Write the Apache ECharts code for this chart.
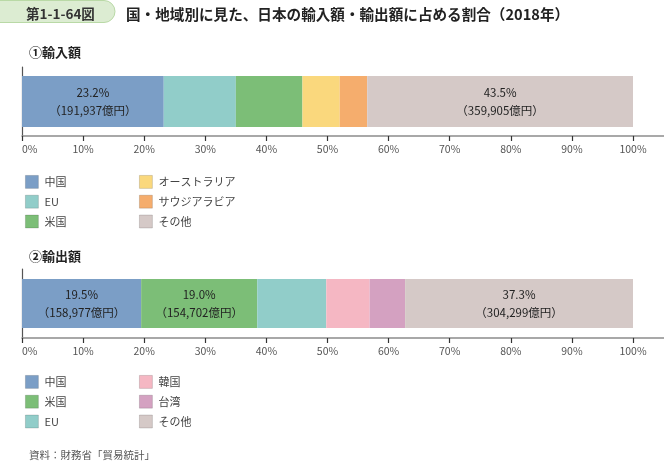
<!DOCTYPE html>
<html>
<head>
<meta charset="utf-8">
<script src="https://cdn.jsdelivr.net/npm/echarts@6/dist/echarts.min.js"></script>
<style>
  html, body { margin: 0; padding: 0; background: #fff; }
  #main { width: 664px; height: 461px; }
</style>
</head>
<body>
<div id="main"></div>
<script>
// 輸入額（2018年）シェア %
var importNames = ['中国', 'EU', '米国', 'オーストラリア', 'サウジアラビア', 'その他']
var importShares = [23.2, 11.8, 10.9, 6.1, 4.5, 43.5]
var importAmounts = [191937, null, null, null, null, 359905]   // 億円

// 輸出額（2018年）シェア %
var exportNames = ['中国', '米国', 'EU', '韓国', '台湾', 'その他']
var exportShares = [19.5, 19.0, 11.3, 7.1, 5.8, 37.3]
var exportAmounts = [158977, 154702, null, null, null, 304299]  // 億円

var xTicks = [0, 100, 10]   // min, max, interval

var colors = {
    '中国': '#7b9ec6',
    'EU': '#91cdc9',
    '米国': '#7cbe77',
    'オーストラリア': '#fad87d',
    'サウジアラビア': '#f5ad6d',
    '韓国': '#f5b7c3',
    '台湾': '#d4a1c1',
    'その他': '#d5c9c7'
}

var FONT = '"Noto Sans CJK JP", "Noto Sans", sans-serif'

function fmtAmount(v) {
    return v.toString().replace(/\B(?=(\d{3})+(?!\d))/g, ',')
}

function makeSeries(names, shares, amounts, idx, barWidth) {
    return names.map(function (n, i) {
        var amt = amounts[i]
        return {
            name: n,
            type: 'bar',
            stack: 'total' + idx,
            xAxisIndex: idx,
            yAxisIndex: idx,
            barWidth: barWidth,
            itemStyle: { color: colors[n] },
            label: {
                show: amt != null,
                position: 'inside',
                fontFamily: FONT,
                fontSize: 11.5,
                color: '#222',
                lineHeight: 18,
                formatter: function () {
                    return shares[i].toFixed(1) + '%\n（' + fmtAmount(amt) + '億円）'
                }
            },
            emphasis: { disabled: true },
            data: [shares[i]]
        }
    })
}

function makeX(idx) {
    return {
        gridIndex: idx,
        type: 'value',
        min: xTicks[0],
        max: xTicks[1],
        interval: xTicks[2],
        splitLine: { show: false },
        axisLine: { show: true, lineStyle: { color: '#8c8c8c', width: 1.5 } },
        axisTick: { show: true, length: 5, lineStyle: { color: '#333', width: 1.2 } },
        axisLabel: {
            formatter: '{value}%',
            color: '#555',
            fontSize: 10.5,
            fontFamily: FONT,
            margin: 8,
            alignMinLabel: 'left'
        }
    }
}

function makeY(idx) {
    return {
        gridIndex: idx,
        type: 'category',
        data: [''],
        axisLine: { show: true, lineStyle: { color: '#555', width: 1.2 } },
        axisTick: { show: false },
        axisLabel: { show: false }
    }
}

function makeLegend(names, left, top) {
    return {
        orient: 'vertical',
        left: left,
        top: top,
        padding: 0,
        itemWidth: 13,
        itemHeight: 13,
        itemGap: 6,
        icon: 'rect',
        selectedMode: false,
        textStyle: { fontFamily: FONT, fontSize: 11, color: '#444', lineHeight: 13, padding: [0, 0, 0, 1] },
        itemStyle: { borderWidth: 0.8, borderColor: 'rgba(0,0,0,0.18)' },
        data: names
    }
}

var option = {
    backgroundColor: '#fff',
    animation: false,
    textStyle: { fontFamily: FONT },
    title: [
        { text: '第1-1-64図', left: 21, top: 2, textStyle: { fontFamily: FONT, fontSize: 13.5, fontWeight: 'bold', color: '#333' } },
        { text: '国・地域別に見た、日本の輸入額・輸出額に占める割合（2018年）', left: 121, top: 2, textStyle: { fontFamily: FONT, fontSize: 14.6, fontWeight: 'bold', color: '#222' } },
        { text: '①輸入額', left: 24, top: 41, textStyle: { fontFamily: FONT, fontSize: 13, fontWeight: 'bold', color: '#222' } },
        { text: '②輸出額', left: 24, top: 245, textStyle: { fontFamily: FONT, fontSize: 13, fontWeight: 'bold', color: '#222' } },
        { text: '資料：財務省「貿易統計」', left: 24, top: 445, textStyle: { fontFamily: FONT, fontSize: 10.5, fontWeight: 'normal', color: '#555' } }
    ],
    graphic: [
        { type: 'rect', z: -1, shape: { x: -12, y: 0.5, width: 127, height: 22, r: 11 }, style: { fill: '#dcecd2', stroke: '#b9d9a6', lineWidth: 1 } },
        { type: 'line', shape: { x1: 633, y1: 136, x2: 664, y2: 136 }, style: { stroke: '#8c8c8c', lineWidth: 1.5 } },
        { type: 'line', shape: { x1: 633, y1: 338, x2: 664, y2: 338 }, style: { stroke: '#8c8c8c', lineWidth: 1.5 } }
    ],
    legend: [
        makeLegend(importNames.slice(0, 3), 25, 175),
        makeLegend(importNames.slice(3), 139, 175),
        makeLegend(exportNames.slice(0, 3), 25, 375),
        makeLegend(exportNames.slice(3), 139, 375)
    ],
    grid: [
        { left: 22, right: 31, top: 67, height: 69 },
        { left: 22, right: 31, top: 269, height: 69 }
    ],
    xAxis: [makeX(0), makeX(1)],
    yAxis: [makeY(0), makeY(1)],
    series: makeSeries(importNames, importShares, importAmounts, 0, 51)
        .concat(makeSeries(exportNames, exportShares, exportAmounts, 1, 49))
}

var chart = echarts.init(document.getElementById('main'), null, { renderer: 'canvas' })
chart.setOption(option)
</script>
</body>
</html>
